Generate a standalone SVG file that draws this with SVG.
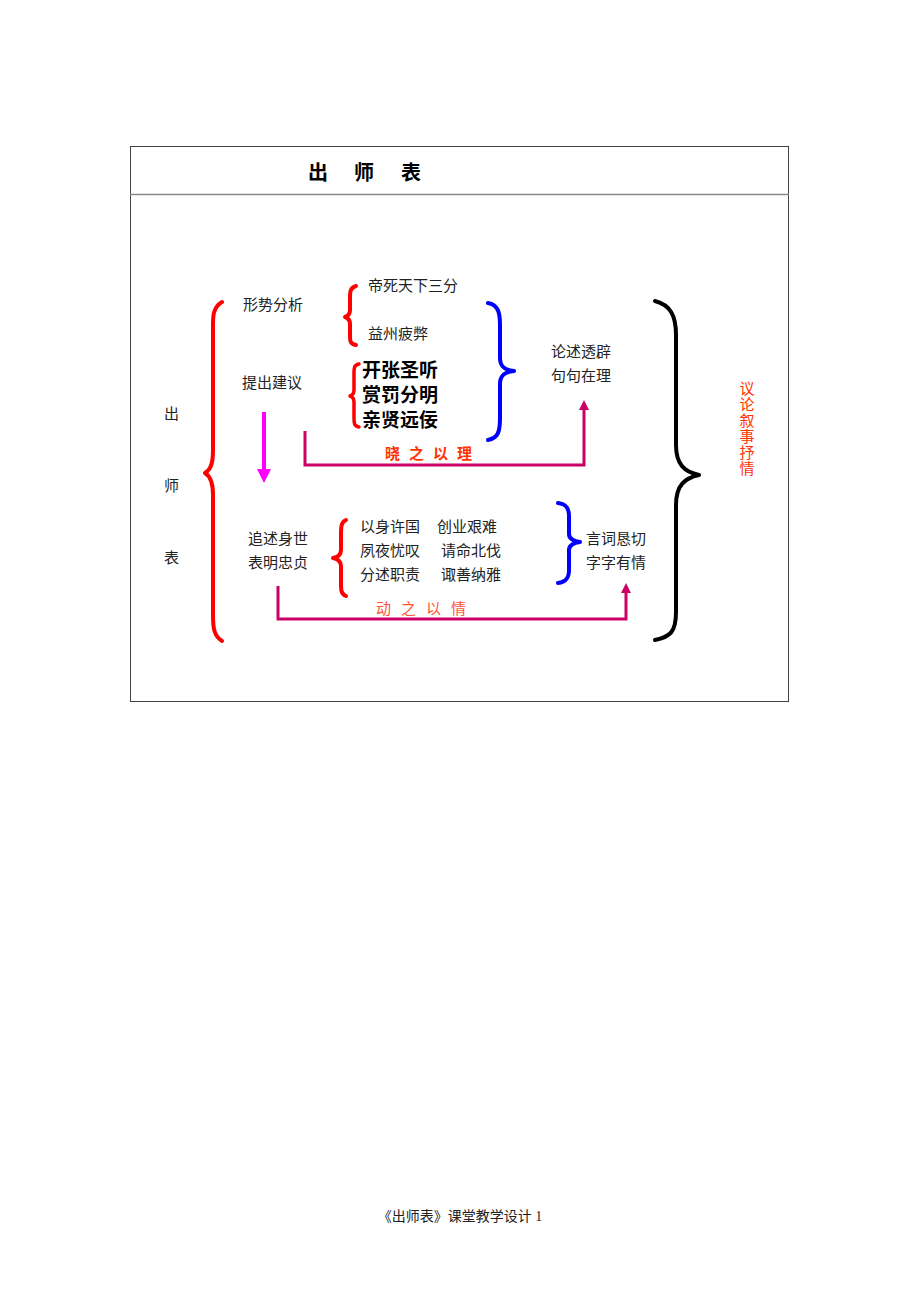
<svg xmlns="http://www.w3.org/2000/svg" width="920" height="1302" viewBox="0 0 920 1302">
<style>
text{font-family:"Liberation Serif","Noto Sans CJK SC",serif;}
.t{font-size:15px;fill:#222;font-family:"Noto Sans CJK SC",sans-serif;}
.b{font-size:19px;font-weight:bold;fill:#000;font-family:"Noto Sans CJK SC",sans-serif;}
.or{font-size:15px;fill:#ff3300;font-family:"Noto Sans CJK SC",sans-serif;}
.ttl{font-size:20px;font-weight:bold;fill:#000;font-family:"Noto Sans CJK SC",sans-serif;}
.br{fill:none;stroke-linecap:round;stroke-linejoin:round;}
.red{stroke:#ff0000;}
.blue{stroke:#0000ff;}
.conn{fill:none;stroke:#cc0066;stroke-width:3;}
</style>
<defs>
<marker id="ah" markerWidth="10" markerHeight="10" refX="5" refY="5" orient="auto" markerUnits="userSpaceOnUse" viewBox="0 0 10 10">
<path d="M0,0 L10,5 L0,10 z" fill="#cc0066"/>
</marker>
<marker id="ahm" markerWidth="14" markerHeight="14" refX="7" refY="7" orient="auto" markerUnits="userSpaceOnUse" viewBox="0 0 14 14">
<path d="M0,0 L14,7 L0,14 z" fill="#ff00ff"/>
</marker>
</defs>
<rect width="920" height="1302" fill="#fff"/>
<g id="frame">
<rect x="130.5" y="146.5" width="658" height="555" fill="none" stroke="#444" stroke-width="1"/>
<line x1="130" y1="194.5" x2="789" y2="194.5" stroke="#888" stroke-width="1.5"/>
<text class="ttl" x="308" y="180">出</text>
<text class="ttl" x="354" y="180">师</text>
<text class="ttl" x="401" y="180">表</text>
</g>
<g id="left-label">
<text class="t" x="164" y="419">出</text>
<text class="t" x="164" y="491">师</text>
<text class="t" x="164" y="563">表</text>
</g>
<g id="brace-main">
<path class="br red" stroke-width="4" d="M222,302 C212,308 213,318 213,330 L213,450 C213,465 210,470 205,473 C210,476 213,482 213,495 L213,615 C213,628 214,636 222,641"/>
</g>
<g id="node-analysis">
<text class="t" x="243" y="310">形势分析</text>
<path class="br red" stroke-width="4" d="M356,286 C350,288 350,292 350,298 L350,310 C350,314 348,316 345,317 C348,318 350,320 350,324 L350,335 C350,341 350,344 356,345"/>
<text class="t" x="368" y="291">帝死天下三分</text>
<text class="t" x="368" y="339">益州疲弊</text>
</g>
<g id="node-suggest">
<text class="t" x="242" y="388">提出建议</text>
<path class="br red" stroke-width="3.5" d="M359,364 C354,365 354,368 354,373 L354,390 C354,393 353,395 350,396 C353,397 354,399 354,402 L354,418 C354,423 354,426 359,427"/>
<text class="b" x="362" y="377">开张圣听</text>
<text class="b" x="362" y="402">赏罚分明</text>
<text class="b" x="362" y="427">亲贤远佞</text>
</g>
<g id="brace-blue-1">
<path class="br blue" stroke-width="4" d="M488,303 C498,305 500,312 500,325 L500,358 C500,366 504,370 514,371 C504,372 500,376 500,384 L500,418 C500,432 498,438 488,440"/>
</g>
<g id="node-reason">
<text class="t" x="551" y="357">论述透辟</text>
<text class="t" x="551" y="381">句句在理</text>
</g>
<g id="brace-black">
<path class="br" stroke="#000" stroke-width="4" d="M655,301 C670,305 676,315 676,335 L676,445 C676,465 685,472 699,475 C685,478 676,485 676,505 L676,612 C676,632 670,637 655,640"/>
</g>
<g id="node-summary">
<text class="or" x="747" y="381" writing-mode="tb" letter-spacing="1">议论叙事抒情</text>
</g>
<g id="node-life">
<text class="t" x="248" y="544">追述身世</text>
<text class="t" x="248" y="568">表明忠贞</text>
<path class="br red" stroke-width="4" d="M346,520 C341,522 341,527 341,535 L341,550 C341,555 338,557 333,558 C338,559 341,561 341,566 L341,583 C341,590 341,594 346,596"/>
<text class="t" x="360" y="532">以身许国</text>
<text class="t" x="437" y="532">创业艰难</text>
<text class="t" x="360" y="556">夙夜忧叹</text>
<text class="t" x="441" y="556">请命北伐</text>
<text class="t" x="360" y="580">分述职责</text>
<text class="t" x="441" y="580">诹善纳雅</text>
</g>
<g id="brace-blue-2">
<path class="br blue" stroke-width="4" d="M558,503 C566,504 569,508 569,516 L569,534 C569,539 573,541 580,542 C573,543 569,545 569,550 L569,570 C569,578 566,582 558,583"/>
</g>
<g id="node-emotion">
<text class="t" x="586" y="544">言词恳切</text>
<text class="t" x="586" y="568">字字有情</text>
</g>
<g id="connectors">
<line x1="264" y1="412" x2="264" y2="476" stroke="#ff00ff" stroke-width="4" marker-end="url(#ahm)"/>
<path class="conn" d="M305,431 L305,465 L584,465 L584,405" marker-end="url(#ah)"/>
<text class="or" x="385" y="459" style="font-weight:bold" letter-spacing="9">晓之以理</text>
<path class="conn" d="M278,586 L278,619 L626,619 L626,588" marker-end="url(#ah)"/>
<text class="or" x="376" y="614" style="fill:#ff5533" letter-spacing="10">动之以情</text>
</g>
<g id="footer">
<text x="460" y="1221" text-anchor="middle" style="font-size:14px;fill:#222">《出师表》课堂教学设计 1</text>
</g>
</svg>
